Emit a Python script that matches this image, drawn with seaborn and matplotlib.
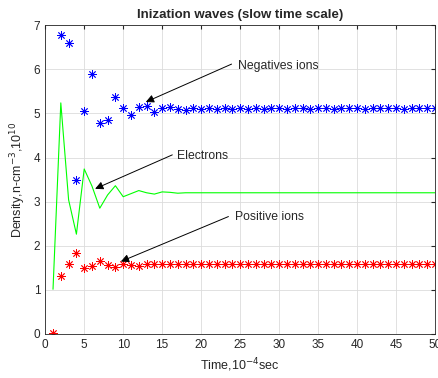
import numpy as np
import pandas as pd
import matplotlib
matplotlib.use("Agg")
import matplotlib.pyplot as plt
import seaborn as sns

# Data
time_neg = list(range(2, 51))
neg_ions = [6.78, 6.59, 3.49, 5.06, 5.90, 4.78, 4.85, 5.38, 5.12, 4.97,
            5.15, 5.17, 5.04, 5.12, 5.14, 5.10, 5.08, 5.12, 5.11, 5.12,
            5.10, 5.12, 5.11, 5.12, 5.11, 5.12, 5.11, 5.12, 5.12, 5.11,
            5.12, 5.12, 5.11, 5.12, 5.12, 5.11, 5.12, 5.12, 5.12, 5.11,
            5.12, 5.12, 5.12, 5.12, 5.11, 5.12, 5.12, 5.12, 5.12]

time_all = list(range(1, 51))
electrons = [1.01, 5.24, 3.04, 2.26, 3.74, 3.35, 2.85, 3.15, 3.36, 3.11,
             3.18, 3.25, 3.20, 3.17, 3.22, 3.21, 3.19] + [3.20] * 33

pos_ions = [0.02, 1.32, 1.59, 1.84, 1.49, 1.53, 1.66, 1.55, 1.52, 1.59,
            1.56, 1.53] + [1.575] * 38

neg_df = pd.DataFrame({"t": time_neg, "n": neg_ions})
el_df = pd.DataFrame({"t": time_all, "n": electrons})
pos_df = pd.DataFrame({"t": time_all, "n": pos_ions})

sns.set_style("white")
plt.rcParams["font.family"] = ["Liberation Sans", "DejaVu Sans"]

fig = plt.figure(figsize=(4.39, 3.78), dpi=100)
ax = fig.add_axes([0.103, 0.117, 0.888, 0.816])

star = (8, 2, 0)
sns.lineplot(data=el_df, x="t", y="n", color="#00ff00", linewidth=0.8, ax=ax)
sns.scatterplot(data=neg_df, x="t", y="n", marker=star, s=32, color="blue",
                linewidth=0.6, edgecolor="blue", ax=ax)
sns.scatterplot(data=pos_df, x="t", y="n", marker=star, s=32, color="red",
                linewidth=0.6, edgecolor="red", ax=ax)

arrow = dict(arrowstyle="-|>", color="black", lw=0.7, mutation_scale=12,
             shrinkA=0, shrinkB=0)
ax.annotate("", xy=(12.9, 5.26), xytext=(23.9, 6.12), arrowprops=arrow)
ax.text(24.7, 6.08, "Negatives ions", fontsize=8.8, va="center", ha="left",
        color="#262626")
ax.annotate("", xy=(6.4, 3.29), xytext=(16.3, 4.06), arrowprops=arrow)
ax.text(16.9, 4.04, "Electrons", fontsize=8.8, va="center", ha="left",
        color="#262626")
ax.annotate("", xy=(9.7, 1.64), xytext=(23.5, 2.66), arrowprops=arrow)
ax.text(24.3, 2.66, "Positive ions", fontsize=8.8, va="center", ha="left",
        color="#262626")

ax.set_xlim(0, 50)
ax.set_ylim(0, 7)
ax.set_xticks(range(0, 51, 5))
ax.set_yticks(range(0, 8))
ax.grid(True, color="#dcdcdc", linewidth=0.6)
ax.tick_params(direction="in", length=3, labelsize=8.5, colors="#262626",
               top=True, right=True, labeltop=False, labelright=False)
for s in ax.spines.values():
    s.set_color("#262626")
    s.set_linewidth(0.6)

ax.set_title("Inization waves (slow time scale)", fontsize=9.5,
             fontweight="bold", pad=5)
ax.set_xlabel("Time,10$^{-4}$sec", fontsize=9)
ax.set_ylabel("Density,n-cm$^{-3}$,10$^{10}$", fontsize=9)

fig.savefig("out.png", dpi=100)
